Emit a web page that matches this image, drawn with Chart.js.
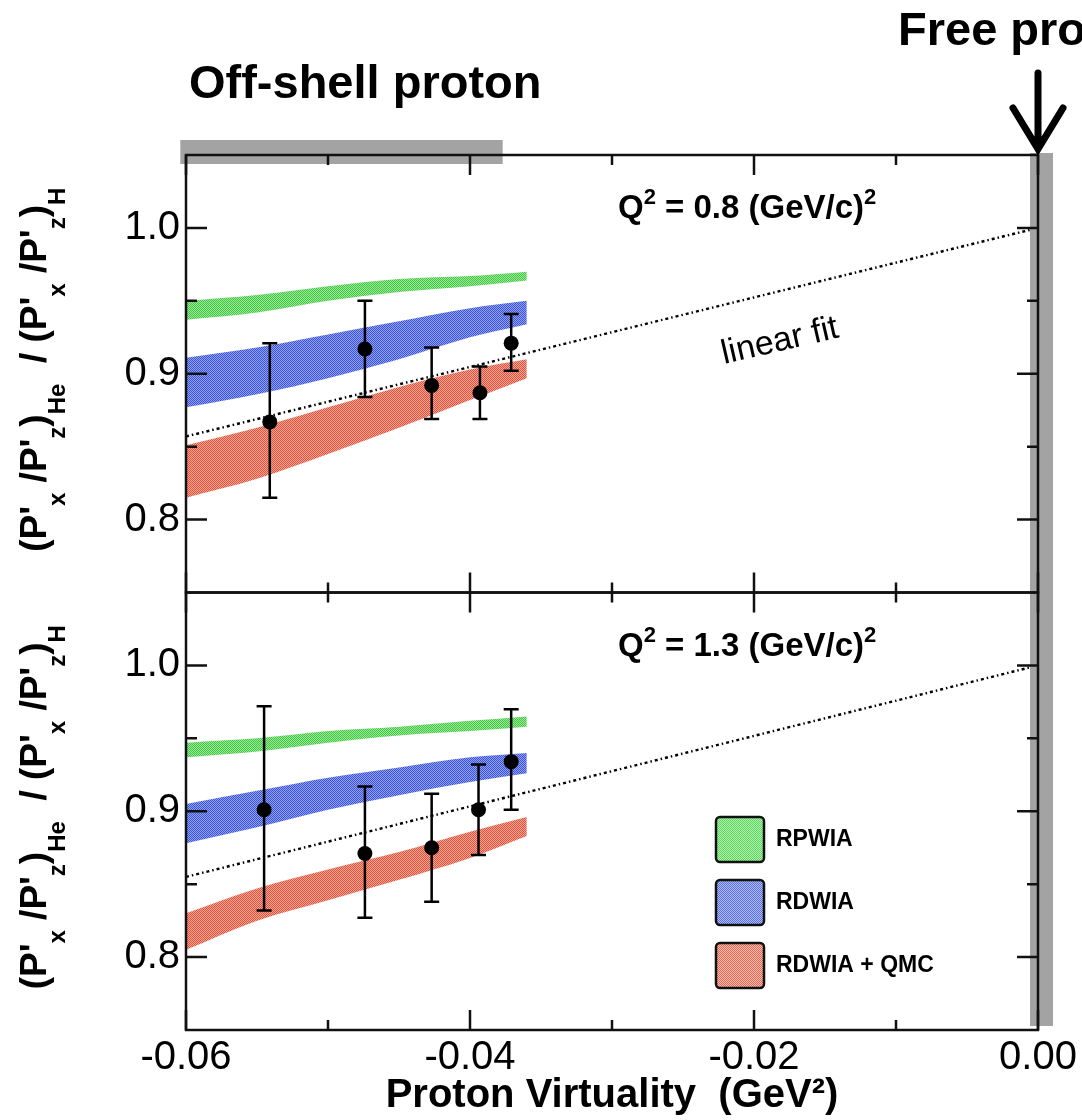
<!DOCTYPE html>
<html>
<head>
<meta charset="utf-8">
<title>Polarization transfer ratio vs proton virtuality</title>
<script src="https://cdn.jsdelivr.net/npm/chart.js@4.4.1/dist/chart.umd.min.js"></script>
<style>
  html, body { margin: 0; padding: 0; background: #fff; }
  #wrap { width: 1082px; height: 1120px; }
</style>
</head>
<body>
<div id="wrap"><canvas id="chart" width="1082" height="1120"></canvas></div>
<script>
// ---- data ----
const xTickValues = [-0.06, -0.04, -0.02, 0.0];
const xMinorValues = [-0.05, -0.03, -0.01];
const yTickValues = [0.8, 0.9, 1.0];
const yMinorValues = [0.85, 0.95];

const modelNames = ['RPWIA', 'RDWIA', 'RDWIA + QMC'];
const panelLabels = ['0.8', '1.3'];

// calculation bands (upper / lower edge), sampled along the virtuality axis
const bandX = [-0.06, -0.055, -0.05, -0.045, -0.04, -0.036];

const rpwiaTopHi = [0.950, 0.954, 0.960, 0.965, 0.967, 0.970];
const rpwiaTopLo = [0.937, 0.942, 0.950, 0.956, 0.960, 0.964];
const rdwiaTopHi = [0.911, 0.918, 0.927, 0.936, 0.945, 0.950];
const rdwiaTopLo = [0.877, 0.886, 0.897, 0.910, 0.925, 0.934];
const qmcTopHi = [0.851, 0.863, 0.877, 0.891, 0.903, 0.910];
const qmcTopLo = [0.815, 0.828, 0.845, 0.863, 0.882, 0.897];

const rpwiaBotHi = [0.947, 0.950, 0.955, 0.958, 0.962, 0.965];
const rpwiaBotLo = [0.937, 0.941, 0.947, 0.952, 0.955, 0.958];
const rdwiaBotHi = [0.905, 0.914, 0.923, 0.930, 0.937, 0.940];
const rdwiaBotLo = [0.878, 0.889, 0.901, 0.911, 0.920, 0.926];
const qmcBotHi = [0.830, 0.847, 0.860, 0.872, 0.886, 0.896];
const qmcBotLo = [0.805, 0.825, 0.839, 0.853, 0.868, 0.883];

// measured points, Q2 = 0.8
const topX = [-0.0541, -0.0474, -0.0427, -0.0393, -0.0371];
const topY = [0.867, 0.917, 0.892, 0.887, 0.921];
const topErrHi = [0.921, 0.950, 0.918, 0.905, 0.941];
const topErrLo = [0.815, 0.884, 0.869, 0.869, 0.902];

// measured points, Q2 = 1.3
const botX = [-0.0545, -0.0474, -0.0427, -0.0394, -0.0371];
const botY = [0.901, 0.871, 0.875, 0.901, 0.934];
const botErrHi = [0.972, 0.917, 0.912, 0.932, 0.970];
const botErrLo = [0.832, 0.827, 0.838, 0.870, 0.901];

// linear fits
const fitX = [-0.06, 0.0];
const fitTop = [0.857, 1.0];
const fitBot = [0.855, 1.0];

// marked regions
const offShellRange = [-0.0604, -0.0377];
const freeProtonX = 0.0;

// ---- styles ----
const FONT = "'Liberation Sans', Arial, Helvetica, sans-serif";
// dithered fills: [dot colour, background colour]
const bandShades = [['#3fc83f', '#9ee89e'], ['#3a52dc', '#93a2ee'], ['#e0523c', '#f2a696']];
const legendShades = [['#5ad65a', '#b4efb4'], ['#5a6fe2', '#b0bcf3'], ['#e56a55', '#f6bcb0']];
const GRAY = '#a3a3a3';

function dither(shade) {
  const c = document.createElement('canvas');
  c.width = 2; c.height = 2;
  const g = c.getContext('2d');
  g.fillStyle = shade[1];
  g.fillRect(0, 0, 2, 2);
  g.fillStyle = shade[0];
  g.fillRect(0, 0, 1, 1);
  g.fillRect(1, 1, 1, 1);
  return g.createPattern(c, 'repeat');
}

function pts(xs, ys) {
  return xs.map((x, i) => ({ x: x, y: ys[i] }));
}

function band(name, hi, lo, fillStyle, axis) {
  const common = { yAxisID: axis, borderColor: 'rgba(0,0,0,0)', borderWidth: 1, pointRadius: 0,
    cubicInterpolationMode: 'monotone' };
  return [
    Object.assign({ label: name + ' hi', data: pts(bandX, hi), fill: false }, common),
    Object.assign({ label: name, data: pts(bandX, lo), fill: '-1', backgroundColor: fillStyle }, common)
  ];
}

function points(xs, ys, axis) {
  return { label: 'data', data: pts(xs, ys), yAxisID: axis, showLine: false,
    pointRadius: 7.5, pointBackgroundColor: '#000', pointBorderColor: '#000', pointBorderWidth: 0 };
}

function fitLine(ys, axis) {
  return { label: 'linear fit', data: pts(fitX, ys), yAxisID: axis, borderColor: '#000',
    borderWidth: 2.4, borderDash: [3, 3, 1.5, 3], pointRadius: 0, fill: false };
}

// text with sub/superscripts: parts = [text, size, dy]
function drawRich(ctx, parts, x, y, center) {
  let w = 0;
  parts.forEach(p => { ctx.font = 'bold ' + p[1] + 'px ' + FONT; w += ctx.measureText(p[0]).width; });
  let cx = center ? x - w / 2 : x;
  parts.forEach(p => {
    ctx.font = 'bold ' + p[1] + 'px ' + FONT;
    ctx.fillText(p[0], cx, y + p[2]);
    cx += ctx.measureText(p[0]).width;
  });
}

function drawErrors(ctx, xs, s, lo, hi, xScale) {
  ctx.save();
  ctx.strokeStyle = '#000';
  ctx.lineWidth = 2.5;
  xs.forEach((xv, i) => {
    const px = xScale.getPixelForValue(xv);
    const y1 = s.getPixelForValue(lo[i]);
    const y2 = s.getPixelForValue(hi[i]);
    ctx.beginPath();
    ctx.moveTo(px, y1); ctx.lineTo(px, y2);
    ctx.moveTo(px - 7.5, y1); ctx.lineTo(px + 7.5, y1);
    ctx.moveTo(px - 7.5, y2); ctx.lineTo(px + 7.5, y2);
    ctx.stroke();
  });
  ctx.restore();
}

function drawFrame(ctx, xs, s) {
  ctx.save();
  ctx.strokeStyle = '#111';
  ctx.lineWidth = 2.5;
  ctx.strokeRect(xs.left, s.top, xs.right - xs.left, s.bottom - s.top);
  ctx.beginPath();
  const tick = (v, len) => {
    const px = xs.getPixelForValue(v);
    ctx.moveTo(px, s.top); ctx.lineTo(px, s.top + len);
    ctx.moveTo(px, s.bottom); ctx.lineTo(px, s.bottom - len);
  };
  xTickValues.forEach(v => tick(v, 20));
  xMinorValues.forEach(v => tick(v, 10));
  const ytick = (v, len) => {
    const py = s.getPixelForValue(v);
    ctx.moveTo(xs.left, py); ctx.lineTo(xs.left + len, py);
    ctx.moveTo(xs.right, py); ctx.lineTo(xs.right - len, py);
  };
  yTickValues.forEach(v => ytick(v, 21));
  yMinorValues.forEach(v => ytick(v, 11));
  ctx.stroke();
  ctx.restore();
}

function drawYTitle(ctx, cx, cy) {
  const M = 37, S = 24, D = 19;
  ctx.save();
  ctx.translate(cx, cy);
  ctx.rotate(-Math.PI / 2);
  ctx.fillStyle = '#000';
  ctx.textBaseline = 'alphabetic';
  drawRich(ctx, [
    ["(P'", M, 0], ['x', S, D], [" /P'", M, 0], ['z', S, D], [')', M, 0], ['He', S, D],
    ["  / (P'", M, 0], ['x', S, D], [" /P'", M, 0], ['z', S, D], [')', M, 0], ['H', S, D]
  ], 0, 0, true);
  ctx.restore();
}

const decor = {
  id: 'decor',
  beforeDraw(chart) {
    const ctx = chart.ctx;
    ctx.save();
    ctx.fillStyle = '#fff';
    ctx.fillRect(0, 0, chart.width, chart.height);
    ctx.restore();
  },
  afterDatasetsDraw(chart) {
    const ctx = chart.ctx;
    const { x, yTop, yBot } = chart.scales;
    drawErrors(ctx, topX, yTop, topErrLo, topErrHi, x);
    drawErrors(ctx, botX, yBot, botErrLo, botErrHi, x);

    // grey markers: off-shell region and free proton line
    ctx.save();
    ctx.fillStyle = GRAY;
    const x0 = x.getPixelForValue(offShellRange[0]);
    const x1 = x.getPixelForValue(offShellRange[1]);
    ctx.fillRect(x0, yTop.top - 15, x1 - x0, 24);
    const xf = x.getPixelForValue(freeProtonX);
    ctx.fillRect(xf - 8, yTop.top - 2, 23, yBot.bottom - yTop.top - 2);
    ctx.restore();
  },
  afterDraw(chart) {
    const ctx = chart.ctx;
    const { x, yTop, yBot } = chart.scales;
    drawFrame(ctx, x, yTop);
    drawFrame(ctx, x, yBot);

    ctx.save();
    ctx.fillStyle = '#000';
    ctx.textBaseline = 'alphabetic';

    // y titles
    drawYTitle(ctx, 46, (yTop.top + yTop.bottom) / 2 - 4);
    drawYTitle(ctx, 46, (yBot.top + yBot.bottom) / 2 - 4);

    // Q2 labels
    [yTop, yBot].forEach((s, i) => {
      drawRich(ctx, [['Q', 33, 0], ['2', 22, -14], [' = ' + panelLabels[i] + ' (GeV/c)', 33, 0], ['2', 22, -14]],
        618, s.top + 63, false);
    });

    // linear fit label
    ctx.save();
    ctx.translate(724, 364);
    ctx.rotate(-0.227);
    ctx.font = '34px ' + FONT;
    ctx.fillText('linear fit', 0, 0);
    ctx.restore();

    // legend (bottom panel)
    modelNames.forEach((name, i) => {
      const bx = 716, by = 817 + i * 63;
      ctx.beginPath();
      ctx.roundRect(bx, by, 48, 45, 4);
      ctx.fillStyle = dither(legendShades[i]);
      ctx.fill();
      ctx.lineWidth = 2.5;
      ctx.strokeStyle = '#111';
      ctx.stroke();
      ctx.fillStyle = '#000';
      ctx.font = 'bold 23px ' + FONT;
      ctx.textBaseline = 'middle';
      ctx.fillText(name, 776, by + 23);
      ctx.textBaseline = 'alphabetic';
    });

    // titles above the plot
    ctx.font = 'bold 47px ' + FONT;
    ctx.fillText('Off-shell proton', 189, 98);
    ctx.fillText('Free proton', 898, 45);

    // arrow to the free proton line
    const xf = x.getPixelForValue(freeProtonX);
    ctx.strokeStyle = '#000';
    ctx.lineWidth = 7;
    ctx.lineCap = 'round';
    ctx.beginPath();
    ctx.moveTo(xf, 73); ctx.lineTo(xf, 146);
    ctx.moveTo(xf - 25, 108); ctx.lineTo(xf, 149); ctx.lineTo(xf + 25, 108);
    ctx.stroke();
    ctx.restore();
  }
};

function yAxis(weight) {
  return {
    type: 'linear', position: 'left', stack: 'panels', stackWeight: 1, weight: weight,
    min: 0.75, max: 1.05,
    grid: { display: false, drawTicks: false },
    border: { display: false },
    afterBuildTicks: s => { s.ticks = yTickValues.map(v => ({ value: v })); },
    afterFit: s => { s.width = 186; },
    ticks: { font: { family: FONT, size: 40 }, color: '#000', padding: 6,
      callback: v => v.toFixed(1) }
  };
}

const fills = bandShades.map(dither);

const datasets = [
  points(topX, topY, 'yTop'),
  points(botX, botY, 'yBot'),
  fitLine(fitTop, 'yTop'),
  fitLine(fitBot, 'yBot'),
  ...band(modelNames[0], rpwiaTopHi, rpwiaTopLo, fills[0], 'yTop'),
  ...band(modelNames[1], rdwiaTopHi, rdwiaTopLo, fills[1], 'yTop'),
  ...band(modelNames[2], qmcTopHi, qmcTopLo, fills[2], 'yTop'),
  ...band(modelNames[0], rpwiaBotHi, rpwiaBotLo, fills[0], 'yBot'),
  ...band(modelNames[1], rdwiaBotHi, rdwiaBotLo, fills[1], 'yBot'),
  ...band(modelNames[2], qmcBotHi, qmcBotLo, fills[2], 'yBot')
];

new Chart(document.getElementById('chart'), {
  type: 'line',
  data: { datasets: datasets },
  options: {
    responsive: false,
    animation: false,
    devicePixelRatio: 1,
    layout: { padding: { left: 0, top: 155, right: 44, bottom: 0 } },
    plugins: { legend: { display: false }, tooltip: { enabled: false } },
    scales: {
      x: {
        type: 'linear', position: 'bottom', min: -0.06, max: 0.0,
        grid: { display: false, drawTicks: false },
        border: { display: false },
        afterBuildTicks: s => { s.ticks = xTickValues.map(v => ({ value: v })); },
        afterFit: s => { s.height = 90; },
        ticks: { font: { family: FONT, size: 40 }, color: '#000', padding: 4,
          maxRotation: 0, autoSkip: false, callback: v => v.toFixed(2) },
        title: { display: true, text: 'Proton Virtuality  (GeV²)', color: '#000',
          font: { family: FONT, size: 40, weight: 'bold' }, padding: { top: 0, bottom: 0 } }
      },
      yBot: yAxis(1),
      yTop: yAxis(2)
    }
  },
  plugins: [decor]
});
</script>
</body>
</html>
